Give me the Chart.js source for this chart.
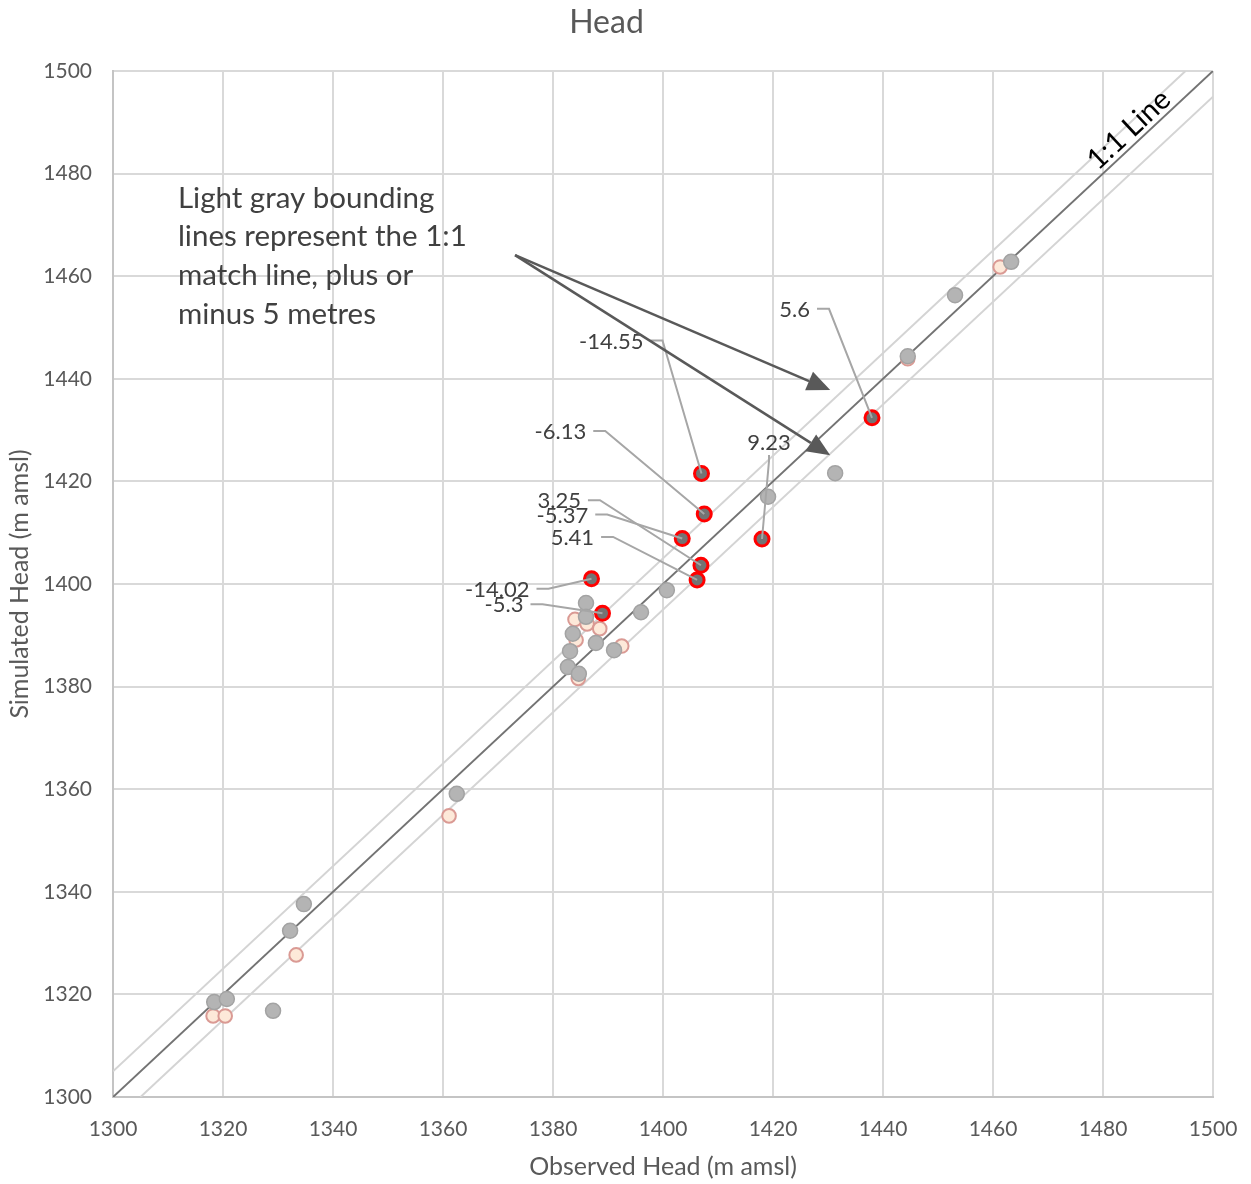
<!DOCTYPE html>
<html>
<head>
<meta charset="utf-8">
<title>Head</title>
<script src="https://cdn.jsdelivr.net/npm/chart.js@4.4.0/dist/chart.umd.min.js"></script>
<style>
  body { margin: 0; background: #fff; }
  #wrap { width: 1251px; height: 1184px; position: relative; }
</style>
</head>
<body>
<div id="wrap"><canvas id="headChart"></canvas></div>
<script>
// axis range / ticks
const axisMin = 1300;
const axisMax = 1500;
const tickStep = 20;

// gray points: observed vs simulated
const grayObs = [1318.4, 1320.7, 1329.1, 1332.2, 1334.7, 1362.5, 1382.7, 1383.1, 1383.6, 1384.7,
                 1386.0, 1386.0, 1387.8, 1391.1, 1396.0, 1400.7, 1419.1, 1431.3, 1444.5, 1453.1, 1463.3];
const graySim = [1318.5, 1319.1, 1316.8, 1332.4, 1337.6, 1359.1, 1383.8, 1386.9, 1390.3, 1382.5,
                 1396.3, 1393.6, 1388.5, 1387.1, 1394.5, 1398.8, 1417.0, 1421.6, 1444.4, 1456.3, 1462.8];

// pale pink points
const pinkObs = [1318.2, 1320.4, 1333.3, 1361.1, 1384.0, 1384.2, 1386.2, 1388.5, 1392.5, 1384.6, 1444.5, 1461.3];
const pinkSim = [1315.8, 1315.8, 1327.7, 1354.8, 1393.1, 1389.1, 1392.2, 1391.3, 1387.9, 1381.6, 1443.9, 1461.8];

// labelled outliers (residual = observed - simulated)
const outObs = [1407.0, 1407.5, 1403.5, 1406.9, 1406.2, 1387.0, 1389.0, 1418.0, 1438.0];
const outSim = [1421.55, 1413.63, 1408.87, 1403.65, 1400.79, 1401.02, 1394.3, 1408.77, 1432.4];
const outLabels = ['-14.55', '-6.13', '-5.37', '3.25', '5.41', '-14.02', '-5.3', '9.23', '5.6'];

// 1:1 line and +/- 5 m bounds
const oneToOneX = [1300, 1500];
const oneToOneY = [1300, 1500];
const upperX = [1300, 1495];
const upperY = [1305, 1500];
const lowerX = [1305, 1500];
const lowerY = [1300, 1495];

const toPts = (xs, ys) => xs.map((x, i) => ({ x: x, y: ys[i] }));

// where each label's leader bends, pixel offset from its point
const calloutOffsets = [
  [-39, -133], [-99, -83], [-75, -24], [-101, -65], [-84, -43],
  [-43, 10], [-60, -9], [7, -78], [-43, -109]
];
const calloutUp = [false, false, false, false, false, false, false, true, false];

const noteLines = ['Light gray bounding', 'lines represent the 1:1', 'match line, plus or', 'minus 5 metres'];

const FONT = 'Lato, "Open Sans", sans-serif';

const annotations = {
  id: 'annotations',
  afterDatasetsDraw(chart) {
    const ctx = chart.ctx;
    const xs = chart.scales.x, ys = chart.scales.y;
    ctx.save();

    // leader lines + residual labels
    const meta = chart.getDatasetMeta(0);
    ctx.font = '22px ' + FONT;
    ctx.fillStyle = '#404040';
    ctx.strokeStyle = '#a6a6a6';
    ctx.lineWidth = 2;
    meta.data.forEach((pt, i) => {
      const px = pt.x, py = pt.y;
      const ex = px + calloutOffsets[i][0], ey = py + calloutOffsets[i][1];
      ctx.beginPath();
      if (calloutUp[i]) {
        ctx.moveTo(ex, ey - 6);
        ctx.lineTo(ex, ey);
        ctx.lineTo(px, py);
        ctx.stroke();
        ctx.textAlign = 'center';
        ctx.textBaseline = 'middle';
        ctx.fillText(outLabels[i], ex, ey - 18);
      } else {
        ctx.moveTo(ex - 12, ey);
        ctx.lineTo(ex, ey);
        ctx.lineTo(px, py);
        ctx.stroke();
        ctx.textAlign = 'right';
        ctx.textBaseline = 'middle';
        ctx.fillText(outLabels[i], ex - 19, ey + 1);
      }
    });

    // arrows from the note to the bounding lines
    const from = { x: xs.getPixelForValue(1373.1), y: ys.getPixelForValue(1464.1) };
    const tips = [[1430.4, 1437.8], [1430.4, 1425.1]];
    ctx.strokeStyle = '#595959';
    ctx.fillStyle = '#595959';
    ctx.lineWidth = 2.5;
    tips.forEach(t => {
      const tx = xs.getPixelForValue(t[0]), ty = ys.getPixelForValue(t[1]);
      const a = Math.atan2(ty - from.y, tx - from.x);
      const hl = 23, hw = 10;
      const bx = tx - hl * Math.cos(a), by = ty - hl * Math.sin(a);
      ctx.beginPath();
      ctx.moveTo(from.x, from.y);
      ctx.lineTo(bx, by);
      ctx.stroke();
      ctx.beginPath();
      ctx.moveTo(tx, ty);
      ctx.lineTo(bx + hw * Math.sin(a), by - hw * Math.cos(a));
      ctx.lineTo(bx - hw * Math.sin(a), by + hw * Math.cos(a));
      ctx.closePath();
      ctx.fill();
    });

    // note text
    ctx.font = '29.5px ' + FONT;
    ctx.fillStyle = '#404040';
    ctx.textAlign = 'left';
    ctx.textBaseline = 'middle';
    const nx = xs.getPixelForValue(1311.8), ny = ys.getPixelForValue(1475.2);
    noteLines.forEach((l, i) => ctx.fillText(l, nx, ny + i * 38.7));

    // 1:1 line label
    const lx = xs.getPixelForValue(1486.5), ly = ys.getPixelForValue(1486.5);
    const ang = Math.atan2(ys.getPixelForValue(1500) - ys.getPixelForValue(1300),
                           xs.getPixelForValue(1500) - xs.getPixelForValue(1300));
    ctx.translate(lx, ly);
    ctx.rotate(ang);
    ctx.font = '29px ' + FONT;
    ctx.fillStyle = '#000';
    ctx.textAlign = 'center';
    ctx.textBaseline = 'bottom';
    ctx.fillText('1:1 Line', 0, 0);
    ctx.restore();
  }
};

const tickFont = { family: FONT, size: 21 };
const plainTick = v => String(v);

new Chart(document.getElementById('headChart'), {
  type: 'scatter',
  data: {
    datasets: [
      {
        label: 'Outliers',
        data: toPts(outObs, outSim),
        backgroundColor: '#737373',
        borderColor: '#ff0000',
        borderWidth: 3,
        pointRadius: 7
      },
      {
        label: 'Head',
        data: toPts(grayObs, graySim),
        backgroundColor: '#b4b4b4',
        borderColor: '#a3a3a3',
        borderWidth: 1.5,
        pointRadius: 7.5
      },
      {
        label: 'Head (2)',
        data: toPts(pinkObs, pinkSim),
        backgroundColor: '#fde9d9',
        borderColor: '#da9a94',
        borderWidth: 2,
        pointRadius: 6.8
      },
      {
        label: '1:1',
        data: toPts(oneToOneX, oneToOneY),
        showLine: true,
        borderColor: '#737373',
        borderWidth: 2,
        pointRadius: 0
      },
      {
        label: '+5',
        data: toPts(upperX, upperY),
        showLine: true,
        borderColor: '#d4d4d4',
        borderWidth: 2,
        pointRadius: 0
      },
      {
        label: '-5',
        data: toPts(lowerX, lowerY),
        showLine: true,
        borderColor: '#d4d4d4',
        borderWidth: 2,
        pointRadius: 0
      }
    ]
  },
  options: {
    responsive: true,
    maintainAspectRatio: false,
    animation: false,
    layout: { padding: { right: 38, left: 0, bottom: 0, top: 0 } },
    plugins: {
      legend: { display: false },
      tooltip: { enabled: false },
      title: {
        display: true,
        text: 'Head',
        color: '#595959',
        font: { family: FONT, size: 32, weight: 'normal' },
        padding: { top: 3, bottom: 29.6 }
      }
    },
    scales: {
      x: {
        type: 'linear',
        min: axisMin,
        max: axisMax,
        ticks: { stepSize: tickStep, color: '#595959', font: tickFont, padding: 20, callback: plainTick },
        grid: { color: '#d9d9d9', lineWidth: 2, drawTicks: false },
        border: { color: '#c4c4c4', width: 2 },
        title: {
          display: true,
          text: 'Observed Head (m amsl)',
          color: '#595959',
          font: { family: FONT, size: 25 },
          padding: { top: 10, bottom: 2 }
        },
        afterFit(scale) {
          scale.height = 87;
          scale.paddingLeft = 0;
          scale.paddingRight = 0;
        }
      },
      y: {
        type: 'linear',
        min: axisMin,
        max: axisMax,
        ticks: { stepSize: tickStep, color: '#595959', font: tickFont, padding: 21, callback: plainTick },
        grid: { color: '#d9d9d9', lineWidth: 2, drawTicks: false },
        border: { color: '#c4c4c4', width: 2 },
        title: {
          display: true,
          text: 'Simulated Head (m amsl)',
          color: '#595959',
          font: { family: FONT, size: 25 },
          padding: { top: 5, bottom: 4 }
        },
        afterFit(scale) { scale.width = 113; }
      }
    }
  },
  plugins: [annotations]
});
</script>
</body>
</html>
